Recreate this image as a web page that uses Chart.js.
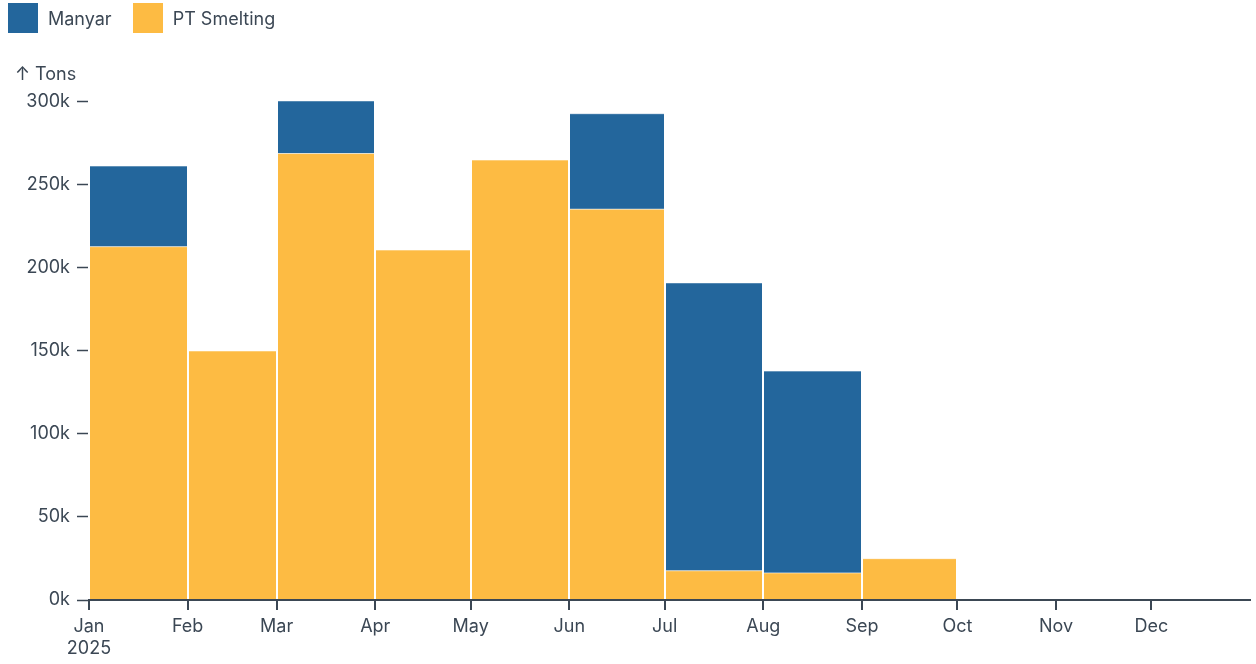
<!DOCTYPE html>
<html>
<head>
<meta charset="utf-8">
<script src="https://cdn.jsdelivr.net/npm/chart.js@4/dist/chart.umd.min.js"></script>
<style>
  html, body { margin: 0; padding: 0; background: #fff; overflow: hidden; }
  body { font-family: Inter, Roboto, sans-serif; color: #3b4754; }
  #wrap { position: relative; width: 1256px; height: 664px; }
  #legend { position: absolute; left: 8px; top: 3px; display: flex; align-items: center; font-size: 18px; }
  #legend span.item { display: flex; align-items: center; margin-right: 21px; }
  #legend span.box { width: 30px; height: 30px; margin-right: 10px; }
</style>
</head>
<body>
<div id="wrap">
  <div id="legend"></div>
  <canvas id="chart" width="1256" height="664"></canvas>
</div>
<script>
// monthly shipments, thousand tons
const months = ['Jan', 'Feb', 'Mar', 'Apr', 'May', 'Jun', 'Jul', 'Aug', 'Sep', 'Oct', 'Nov', 'Dec'];
const year = 2025;
const ptSmelting = [212.8, 150, 268.9, 210.8, 265, 235.4, 17.6, 16.3, 24.9];
const manyar = [48.6, 0, 31.7, 0, 0, 57.5, 173.4, 121.6, 0];
const yTicks = [0, 50, 100, 150, 200, 250, 300];

const blue = '#23669c';
const yellow = '#fdbb43';
const ink = '#3b4754';

const dayOf = m => (Date.UTC(year, m, 1) - Date.UTC(year, 0, 1)) / 86400000;
const monthStarts = months.map((_, i) => dayOf(i));
const yearEnd = dayOf(12);

// one point per month start, held until the next month, closed at the end
const steps = vals => vals.map((v, i) => ({ x: dayOf(i), y: v * 1000 }))
  .concat([{ x: dayOf(vals.length), y: 0 }]);

const series = [
  { label: 'PT Smelting', values: ptSmelting, color: yellow, fill: 'origin' },
  { label: 'Manyar', values: manyar, color: blue, fill: '-1' }
];

// legend (Manyar first)
const legendEl = document.getElementById('legend');
[...series].reverse().forEach(s => {
  const item = document.createElement('span');
  item.className = 'item';
  item.innerHTML = '<span class="box" style="background:' + s.color + '"></span>' + s.label;
  legendEl.appendChild(item);
});

const font = { family: 'Inter', size: 18 };

new Chart(document.getElementById('chart'), {
  type: 'line',
  data: {
    datasets: series.map(s => ({
      label: s.label,
      data: steps(s.values),
      stepped: 'before',
      fill: s.fill,
      backgroundColor: s.color,
      borderColor: 'rgba(255,255,255,0.6)',
      borderWidth: 1,
      pointRadius: 0,
      pointHoverRadius: 0
    }))
  },
  options: {
    responsive: false,
    animation: false,
    events: [],
    layout: { padding: { top: 50, left: 15, right: 6, bottom: 0 } },
    plugins: {
      legend: { display: false },
      tooltip: { enabled: false },
      title: {
        display: true,
        text: '↑ Tons',
        align: 'start',
        color: ink,
        font: { family: 'Inter', size: 18, weight: 'normal' },
        padding: { top: 14, bottom: 8 }
      }
    },
    scales: {
      x: {
        type: 'linear',
        min: 0,
        max: yearEnd,
        afterBuildTicks: axis => { axis.ticks = monthStarts.map(v => ({ value: v })); },
        afterFit: axis => { axis.height = 64; },
        ticks: {
          autoSkip: false,
          maxRotation: 0,
          padding: 6,
          color: ink,
          font: font,
          callback: v => {
            const i = monthStarts.indexOf(v);
            return i === 0 ? [months[0], String(year)] : months[i];
          }
        },
        grid: {
          z: 1,
          color: '#ffffff',
          lineWidth: 2,
          drawOnChartArea: true,
          drawTicks: true,
          tickLength: 10,
          tickColor: ink,
          tickWidth: 2
        },
        border: { display: true, color: ink, width: 2, z: 2 }
      },
      y: {
        stacked: true,
        min: 0,
        max: 305000,
        afterBuildTicks: axis => { axis.ticks = yTicks.map(v => ({ value: v * 1000 })); },
        afterFit: axis => { axis.width = 74; },
        ticks: {
          padding: 7,
          color: ink,
          font: font,
          callback: v => (v / 1000) + 'k'
        },
        grid: {
          drawOnChartArea: false,
          drawTicks: true,
          tickLength: 12,
          tickColor: ink,
          tickWidth: 1.5
        },
        border: { display: false }
      }
    }
  }
});
</script>
</body>
</html>
